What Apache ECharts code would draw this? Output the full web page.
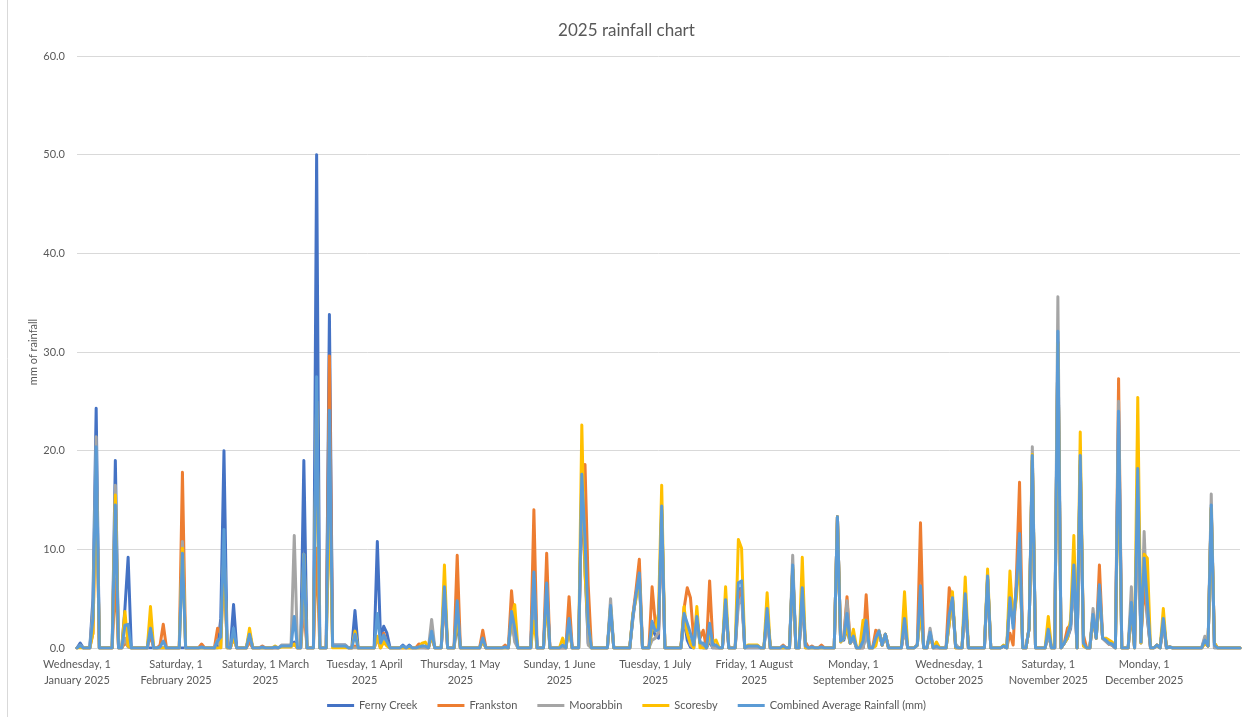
<!DOCTYPE html>
<html><head><meta charset="utf-8">
<script src="https://cdn.jsdelivr.net/npm/echarts@6/dist/echarts.min.js"></script>
<style>html,body{margin:0;padding:0;background:#fff}#chart{width:1253px;height:717px}</style>
</head><body><div id="chart"></div>
<script>
// Month tick labels as wrapped in the reference
const monthTickLabels = [
  'Wednesday, 1\nJanuary 2025', 'Saturday, 1\nFebruary 2025', 'Saturday, 1 March\n2025',
  'Tuesday, 1 April\n2025', 'Thursday, 1 May\n2025', 'Sunday, 1 June\n2025',
  'Tuesday, 1 July\n2025', 'Friday, 1 August\n2025', 'Monday, 1\nSeptember 2025',
  'Wednesday, 1\nOctober 2025', 'Saturday, 1\nNovember 2025', 'Monday, 1\nDecember 2025'
];
const seriesNames = ['Ferny Creek', 'Frankston', 'Moorabbin', 'Scoresby', 'Combined Average Rainfall (mm)'];

// Days of 2025 (0 = 1 January) with recorded rain; all other days are 0 mm
const rainDay = [
  1,5,6,12,15,16,23,26,27,33,
  39,44,45,46,47,49,54,58,62,64,
  65,66,67,68,71,75,79,80,81,82,
  83,84,87,94,95,96,97,102,104,107,
  108,109,111,115,119,127,134,136,137,143,
  147,152,154,158,159,160,167,174,175,176,
  180,181,182,183,190,191,192,193,194,195,
  196,198,199,200,203,207,208,210,211,212,
  213,216,221,224,227,228,230,233,238,239,
  240,241,242,243,246,247,250,251,252,253,
  259,263,264,267,269,273,274,275,278,285,
  290,292,293,294,295,298,299,304,307,309,
  310,311,312,314,315,318,319,320,321,322,
  323,324,326,330,332,333,334,335,338,340,
  342,353,354,355,356
];
const fernyCreek = [
  0.5,5,24.3,19,4,9.2,0,0,0,0,
  0,0,3,20,0,4.4,1.5,0,0,0.2,
  0.2,0.2,0.2,0.6,19,50,33.8,0.3,0.3,0.3,
  0.3,0.3,3.8,10.8,1.0,2.2,1.5,0.3,0.3,0,
  0,0,1.3,6,2.5,0.7,0,3,1,7,
  6,0,2,16,8,0.5,4,3,5.5,7,
  2,1.3,1,14,3,0.8,0.1,0,3,0.5,
  0,0.7,0,0,4.5,6,6,0,0,0,
  0,3.5,0,8,5,0,0,0,13.3,0.7,
  0.8,2,0.5,1,0,1.5,1,1.7,0.3,1.4,
  2.3,0.3,4,1.5,0,2.5,5,0,5,7,
  0.2,5.5,2.5,6,10,2,19,1.5,31,0.5,
  1,2,7.5,19,0.3,3.2,1,5.5,1,0.7,
  0.4,0.3,23,4,16,0.5,9,3,0.3,2.7,
  0.1,1.0,0.2,14,0
];
const frankston = [
  0.2,1.5,18,7,0.5,0.2,1.3,0.3,2.4,17.8,
  0.4,2.0,1.5,8,0.3,1,0.6,0.2,0,0.2,
  0.2,0.2,0.2,0.4,4,10.1,29.6,0.2,0.2,0.2,
  0.2,0.2,0.2,1,0,1.5,0.5,0,0,0.4,
  0.3,0,1.3,5,9.4,1.8,0.3,5.8,2,14,
  9.6,0,5.2,15,18.6,6.4,4,3.4,6,9.0,
  6.2,2.5,1.5,13.5,4,6.1,5.1,1,2.8,1,
  1.8,6.8,0.6,0,4.5,5,6,0.2,0.2,0.2,
  0.2,3.5,0.3,8,5,0.6,0.2,0.3,13.3,0.8,
  1.2,5.2,0.5,1,0,5.4,1.8,1.6,0.3,1.4,
  2,0.3,12.7,1.5,0,6.1,5,0,5,7,
  0.2,1.5,0.3,7,16.8,2,19,1.5,31,0.5,
  2,2.4,7.5,18.5,1.3,3.2,1,8.4,1,0.7,
  0.4,0.3,27.3,4,16,1,6.1,3.5,0.3,2.6,
  0.1,0.5,0.2,14.2,0.5
];
const moorabbin = [
  0.3,4,21.4,16.5,1,0.1,2.5,0,0,10.8,
  0,0.8,0,10,0,1.5,1.5,0,0,0.3,
  0.3,0.3,0.3,11.4,5.5,25,16.5,0.3,0.3,0.3,
  0.3,0.3,0,1,0,0.8,0.4,0,0,0,
  0,0,2.9,5.4,4,0.8,0,3,0.6,7,
  6,0,2.8,16.8,10,0.3,5.0,3.3,5.5,7,
  0.8,1,1.6,13.6,2.8,1.5,0.3,0,2.8,0.5,
  0,1,0,0,4.4,4.4,5.1,0,0,0,
  0,3.4,0,9.4,5.2,0,0,0,13.3,0.6,
  1,4.8,0.5,0.9,0,1.5,1,1.8,0.3,1.4,
  2,0.3,4.5,2.0,0,2.5,4.7,0.4,4.8,7.2,
  0.2,5.6,2.5,6,10,2,20.4,1.4,35.6,0.5,
  1,2.2,7.2,18.6,0.2,4.0,1,6,1,0.7,
  0.4,0.3,25,6.2,15.4,0.5,11.8,3.2,0.3,2.7,
  0.1,1.2,0.2,15.6,0
];
const scoresby = [
  0,1.5,18,15.5,3.7,0.2,4.2,0,0,10.1,
  0,0,0,10,0,1.1,2.0,0,0.2,0.1,
  0.1,0.1,0.1,0.4,9.5,25,16.5,0,0,0,
  0,0,1.7,1.2,0,0.6,0.2,0,0,0,
  0.5,0.6,1.3,8.4,3.3,0.7,0,3,4.4,2.7,
  4.8,1.0,2,22.6,7.4,2.4,4.2,3.5,5,7.4,
  1.8,2,3.5,16.5,4.2,1.5,0.5,0,4.2,0,
  0,1.5,0.6,0.8,6.2,11,10.1,0.3,0.3,0.3,
  0.3,5.6,0,8.2,9.2,0,0,0,13.3,0.6,
  1,2,0.5,1.9,2.8,2.8,0.2,1.7,0.3,1.4,
  5.7,0.3,4,1.4,0.6,2.5,5.7,0,7.2,8.0,
  0.3,7.8,2.7,5,9.6,2,19.6,3.2,30.8,0.5,
  1,3,11.4,21.9,0.2,3.2,1,5.7,1,1.0,
  0.8,0.6,20.7,4.2,25.4,0.5,9.5,9.1,0.3,4.0,
  0.1,0.5,0.2,14.2,0.5
];
const combinedAverage = [
  0.25,3,20.4,14.5,2.3,2.4,2.0,0.1,0.7,9.6,
  0.1,0.7,1.1,12,0.1,2.0,1.4,0.1,0.1,0.2,
  0.2,0.2,0.2,3.2,9.5,27.5,24.1,0.2,0.2,0.2,
  0.2,0.2,1.4,3.5,0.5,1.3,0.65,0.2,0.2,0.1,
  0.2,0.2,1.7,6.2,4.8,1.0,0.1,3.7,2.0,7.7,
  6.6,0.3,3.0,17.6,11,2.4,4.3,3.3,5.5,7.6,
  2.7,1.7,1.9,14.4,3.5,2.5,1.5,0.3,3.2,0.5,
  0.5,2.5,0.3,0.3,4.9,6.6,6.8,0.2,0.2,0.2,
  0.2,4.0,0.2,8.4,6.1,0.2,0.1,0.1,13.3,0.7,
  1.0,3.5,0.5,1.2,0.7,2.8,1.0,1.7,0.3,1.4,
  3.0,0.3,6.3,1.6,0.2,3.4,5.1,0.1,5.5,7.3,
  0.2,5.1,2.0,6,11.6,2,19.5,1.9,32.1,0.5,
  1.3,2.4,8.4,19.5,0.5,3.4,1,6.4,1,0.8,
  0.5,0.4,24.0,4.6,18.2,0.6,9.1,4.7,0.3,3.0,
  0.1,0.8,0.2,14.5,0.3
];

const seriesColors = ['#4472C4', '#ED7D31', '#A5A5A5', '#FFC000', '#5B9BD5'];

// Build category dates for 2025
const dates = [];
for (let i = 0; i < 365; i++) {
  const d = new Date(Date.UTC(2025, 0, 1 + i));
  dates.push(d.toISOString().slice(0, 10));
}
function expand(vals) {
  const out = new Array(dates.length).fill(0);
  rainDay.forEach((d, i) => { out[d] = vals[i]; });
  return out;
}
const seriesValues = [fernyCreek, frankston, moorabbin, scoresby, combinedAverage].map(expand);

const FONT = 'Lato, "Liberation Sans", sans-serif';
const chart = echarts.init(document.getElementById('chart'), null, { renderer: 'canvas' });
chart.setOption({
  animation: false,
  backgroundColor: '#ffffff',
  graphic: [{
    type: 'line', silent: true,
    shape: { x1: 7.5, y1: 0, x2: 7.5, y2: 717 },
    style: { stroke: '#d9d9d9', lineWidth: 1 }
  }],
  title: {
    text: '2025 rainfall chart', left: 'center', top: 17,
    textStyle: { fontFamily: FONT, fontSize: 17, fontWeight: 'normal', color: '#595959' }
  },
  legend: {
    bottom: 1, left: 'center', icon: 'rect', itemWidth: 27, itemHeight: 3, itemGap: 20,
    data: seriesNames,
    textStyle: { fontFamily: FONT, fontSize: 11, color: '#595959' }
  },
  grid: { left: 77, right: 13, top: 56, bottom: 69, containLabel: false },
  xAxis: {
    type: 'category', data: dates, boundaryGap: false,
    axisLine: { show: true, lineStyle: { color: '#d9d9d9', width: 1 } },
    axisTick: { show: false },
    splitLine: { show: false },
    axisLabel: {
      interval: (idx, val) => val.slice(8) === '01',
      formatter: (val) => monthTickLabels[parseInt(val.slice(5, 7), 10) - 1],
      fontFamily: FONT, fontSize: 11, color: '#595959', lineHeight: 16, margin: 8
    }
  },
  yAxis: {
    type: 'value', min: 0, max: 60, interval: 10,
    name: 'mm of rainfall', nameLocation: 'middle', nameGap: 38, nameRotate: 90,
    nameMoveOverlap: false,
    nameTextStyle: { fontFamily: FONT, fontSize: 11, color: '#595959' },
    axisLine: { show: false }, axisTick: { show: false },
    splitLine: { lineStyle: { color: '#d9d9d9', width: 1 } },
    axisLabel: {
      formatter: (v) => v.toFixed(1), margin: 12,
      fontFamily: FONT, fontSize: 11, color: '#595959'
    }
  },
  series: seriesNames.map((name, i) => ({
    name, type: 'line', data: seriesValues[i], symbol: 'none', showSymbol: false,
    color: seriesColors[i],
    lineStyle: { width: 3, color: seriesColors[i], cap: 'round', join: 'round' },
    z: 2 + i
  }))
});
</script></body></html>
